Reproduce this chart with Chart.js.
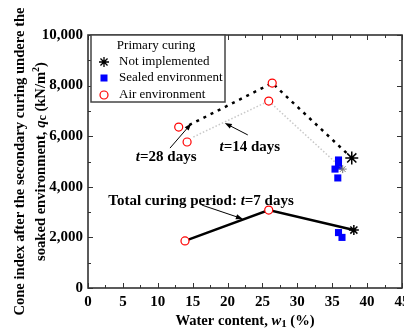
<!DOCTYPE html>
<html>
<head>
<meta charset="utf-8">
<script src="https://cdn.jsdelivr.net/npm/chart.js@4.4.1/dist/chart.umd.min.js"></script>
<style>
  body { margin: 0; background: #fff; }
  #wrap { width: 404px; height: 332px; }
</style>
</head>
<body>
<div id="wrap"><canvas id="chart" width="404" height="332"></canvas></div>
<script>
// axis ranges
var xMin = 0, xMax = 45, xStep = 5;
var yMin = 0, yMax = 10000, yStep = 2000;

// guide lines for each total curing period
var line28W = [14.5, 26.4, 37.8];
var line28Qc = [6440, 8100, 5140];
var line14W = [15.1, 25.9, 36.5];
var line14Qc = [5970, 7390, 4700];
var line7W = [13.9, 25.9, 38.1];
var line7Qc = [1860, 3080, 2290];

// measured points by primary curing
var airW = [13.0, 14.2, 26.4, 25.9, 13.9, 25.9];
var airQc = [6360, 5770, 8100, 7390, 1860, 3080];
var sealedW = [35.9, 35.9, 35.4, 35.8, 35.9, 36.4];
var sealedQc = [5060, 4820, 4700, 4350, 2190, 2000];
var notImplW = [37.8, 38.1];
var notImplQc = [5140, 2290];
var notImpl14W = [36.5];
var notImpl14Qc = [4700];

var SERIF = '"Liberation Serif", "Times New Roman", serif';

function pts(w, q) {
    return w.map(function (v, i) { return { x: v, y: q[i] }; });
}

function drawRuns(ctx, runs, x, y, align) {
    var total = 0;
    runs.forEach(function (r) {
        ctx.font = r.f;
        r.w = ctx.measureText(r.t).width;
        total += r.w;
    });
    var cx = align === "center" ? x - total / 2 : x;
    ctx.textAlign = "left";
    ctx.textBaseline = "middle";
    runs.forEach(function (r) {
        ctx.font = r.f;
        ctx.fillText(r.t, cx, y + (r.dy || 0));
        cx += r.w;
    });
}

function arrow(ctx, x1, y1, x2, y2) {
    var a = Math.atan2(y2 - y1, x2 - x1), L = 7, W = 2.6;
    ctx.beginPath();
    ctx.moveTo(x1, y1);
    ctx.lineTo(x2 - Math.cos(a) * L * 0.8, y2 - Math.sin(a) * L * 0.8);
    ctx.stroke();
    ctx.beginPath();
    ctx.moveTo(x2, y2);
    ctx.lineTo(x2 - Math.cos(a) * L - Math.sin(a) * W, y2 - Math.sin(a) * L + Math.cos(a) * W);
    ctx.lineTo(x2 - Math.cos(a) * L + Math.sin(a) * W, y2 - Math.sin(a) * L - Math.cos(a) * W);
    ctx.closePath();
    ctx.fill();
}

var B15 = "bold 14.6px " + SERIF, BI15 = "italic bold 14.6px " + SERIF;
var BA = "bold 15px " + SERIF, BIA = "italic bold 15px " + SERIF;

var decorPlugin = {
    id: "decor",
    afterDraw: function (chart) {
        var ctx = chart.ctx, a = chart.chartArea;
        var xs = chart.scales.x, ys = chart.scales.y;
        ctx.save();

        // inward ticks on all four sides
        ctx.strokeStyle = "#333";
        ctx.lineWidth = 1;
        ctx.beginPath();
        for (var v = xMin; v <= xMax + 0.01; v += xStep / 2) {
            var px = Math.round(xs.getPixelForValue(v)) + 0.5;
            var len = (v % xStep === 0) ? 5 : 3;
            ctx.moveTo(px, a.bottom); ctx.lineTo(px, a.bottom - len);
            ctx.moveTo(px, a.top); ctx.lineTo(px, a.top + len);
        }
        for (var w = yMin; w <= yMax + 0.01; w += yStep / 2) {
            var py = Math.round(ys.getPixelForValue(w)) + 0.5;
            var len2 = (w % yStep === 0) ? 5 : 3;
            ctx.moveTo(a.left, py); ctx.lineTo(a.left + len2, py);
            ctx.moveTo(a.right, py); ctx.lineTo(a.right - len2, py);
        }
        ctx.stroke();

        // frame
        ctx.lineWidth = 1.6;
        ctx.strokeRect(a.left, a.top, a.right - a.left, a.bottom - a.top);

        // legend box
        ctx.fillStyle = "#fff";
        ctx.fillRect(91, 35, 134, 67);
        ctx.strokeStyle = "#444";
        ctx.lineWidth = 1.5;
        ctx.strokeRect(91, 35, 134, 67);
        ctx.fillStyle = "#000";
        ctx.font = "13px " + SERIF;
        ctx.textBaseline = "middle";
        ctx.textAlign = "center";
        ctx.fillText("Primary curing", 156, 46);
        ctx.textAlign = "left";
        ctx.fillText("Not implemented", 119, 62);
        ctx.fillText("Sealed environment", 119, 78);
        ctx.fillText("Air environment", 119, 95);
        // legend markers
        ctx.strokeStyle = "#000";
        ctx.lineWidth = 1.3;
        ctx.beginPath();
        for (var k = 0; k < 4; k++) {
            var ang = k * Math.PI / 4, r = 5;
            ctx.moveTo(104 - Math.cos(ang) * r, 62 - Math.sin(ang) * r);
            ctx.lineTo(104 + Math.cos(ang) * r, 62 + Math.sin(ang) * r);
        }
        ctx.stroke();
        ctx.fillStyle = "#0000ff";
        ctx.fillRect(100.5, 74.5, 7, 7);
        ctx.strokeStyle = "#ff0000";
        ctx.lineWidth = 1.2;
        ctx.beginPath();
        ctx.arc(104, 95, 4, 0, Math.PI * 2);
        ctx.stroke();

        // annotations
        ctx.fillStyle = "#000";
        ctx.strokeStyle = "#000";
        ctx.lineWidth = 1;
        function P(x, y) { return [xs.getPixelForValue(x), ys.getPixelForValue(y)]; }
        var t1 = P(11.2, 5180);
        drawRuns(ctx, [{ t: "t", f: BIA }, { t: "=28 days", f: BA }], t1[0], t1[1], "center");
        var s1 = P(11.75, 5530), e1 = P(14.8, 6500);
        arrow(ctx, s1[0], s1[1], e1[0], e1[1]);

        var t2 = P(23.2, 5570);
        drawRuns(ctx, [{ t: "t", f: BIA }, { t: "=14 days", f: BA }], t2[0], t2[1], "center");
        var s2 = P(22.9, 6050), e2 = P(19.6, 6520);
        arrow(ctx, s2[0], s2[1], e2[0], e2[1]);

        var t3 = P(16.2, 3440);
        drawRuns(ctx, [{ t: "Total curing period: ", f: BA }, { t: "t", f: BIA }, { t: "=7 days", f: BA }], t3[0], t3[1], "center");
        var s3 = P(16.3, 3280), e3 = P(22.2, 2730);
        arrow(ctx, s3[0], s3[1], e3[0], e3[1]);

        // axis titles
        var cx = (a.left + a.right) / 2, cy = (a.top + a.bottom) / 2;
        drawRuns(ctx, [{ t: "Water content, ", f: B15 }, { t: "w", f: BI15 }, { t: "1", f: "bold 11px " + SERIF, dy: 3 }, { t: " (%)", f: B15 }], cx, 321, "center");

        ctx.translate(20, cy);
        ctx.rotate(-Math.PI / 2);
        drawRuns(ctx, [{ t: "Cone index after the secondary curing undere the", f: B15 }], 0, 0, "center");
        drawRuns(ctx, [
            { t: "soaked environment, ", f: B15 },
            { t: "q", f: BI15 },
            { t: "c", f: "bold 12px " + SERIF, dy: 2 },
            { t: " (kN/m", f: B15 },
            { t: "2", f: "bold 10px " + SERIF, dy: -5 },
            { t: ")", f: B15 }
        ], 0, 21, "center");
        ctx.restore();
    }
};

var tickFont = { family: SERIF, size: 15, weight: "bold" };

new Chart(document.getElementById("chart").getContext("2d"), {
    type: "scatter",
    data: {
        datasets: [
            {
                label: "t=28 days",
                data: pts(line28W, line28Qc),
                showLine: true,
                borderColor: "#000",
                borderWidth: 2.5,
                borderDash: [3, 5],
                pointRadius: 0,
                order: 6,
            },
            {
                label: "t=14 days",
                data: pts(line14W, line14Qc),
                showLine: true,
                borderColor: "#c8c8c8",
                borderWidth: 1.5,
                borderDash: [1.5, 2],
                pointRadius: 0,
                order: 7,
            },
            {
                label: "t=7 days",
                data: pts(line7W, line7Qc),
                showLine: true,
                borderColor: "#000",
                borderWidth: 2.5,
                pointRadius: 0,
                order: 5,
            },
            {
                label: "Sealed environment",
                data: pts(sealedW, sealedQc),
                pointStyle: "rect",
                pointRadius: 5,
                backgroundColor: "#0000ff",
                borderColor: "#0000ff",
                borderWidth: 0,
                order: 3,
            },
            {
                label: "Air environment",
                data: pts(airW, airQc),
                pointStyle: "circle",
                pointRadius: 4,
                backgroundColor: "#fff",
                borderColor: "#ff0000",
                borderWidth: 1.2,
                order: 2,
            },
            {
                label: "Not implemented (t=14)",
                data: pts(notImpl14W, notImpl14Qc),
                pointStyle: "star",
                pointRadius: 4,
                borderColor: "#777",
                borderWidth: 1,
                order: 1,
            },
            {
                label: "Not implemented",
                data: pts(notImplW, notImplQc),
                pointStyle: "star",
                pointRadius: [6.5, 5],
                borderColor: "#000",
                borderWidth: 1.5,
                order: 0,
            },
        ],
    },
    options: {
        responsive: false,
        animation: false,
        locale: "en-US",
        layout: { autoPadding: false, padding: { top: 35, right: 2, left: 0, bottom: 0 } },
        plugins: { legend: { display: false }, tooltip: { enabled: false } },
        scales: {
            x: {
                type: "linear",
                min: xMin,
                max: xMax,
                ticks: { stepSize: xStep, color: "#000", font: tickFont, padding: 5, maxRotation: 0 },
                grid: { display: false, drawTicks: false },
                border: { display: false },
                afterFit: function (s) { s.height = 44; s.paddingLeft = 0; s.paddingRight = 0; },
            },
            y: {
                type: "linear",
                min: yMin,
                max: yMax,
                ticks: { stepSize: yStep, color: "#000", font: tickFont, padding: 5 },
                grid: { display: false, drawTicks: false },
                border: { display: false },
                afterFit: function (s) { s.width = 88; s.paddingTop = 0; s.paddingBottom = 0; },
            },
        },
    },
    plugins: [decorPlugin],
});
</script>
</body>
</html>
